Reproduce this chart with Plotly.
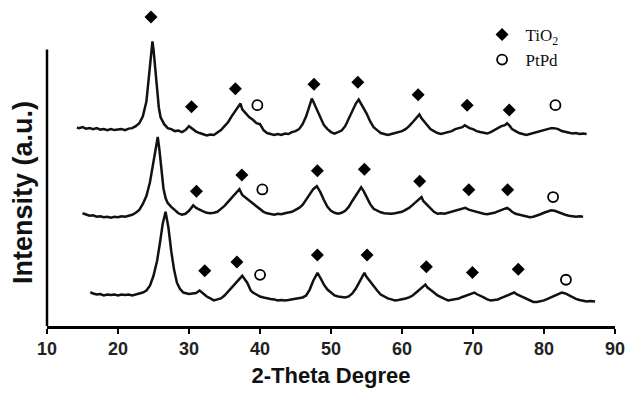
import plotly.graph_objects as go

# ---- data (2-theta in degrees, intensity in a.u. incl. stacking offset) ----
top_x = [14.2, 14.5, 15.0, 15.5, 16.0, 16.5, 17.0, 17.5, 18.0, 18.5, 19.0, 19.5, 20.0, 20.5, 21.0, 21.5,
         22.0, 22.5, 23.0, 23.5, 24.0, 24.5, 24.85, 25.0, 25.25, 25.5, 25.75, 26.0, 26.5, 27.0, 27.5,
         28.0, 28.5, 29.0, 29.5, 30.0, 30.5, 31.0, 31.5, 32.0, 32.5, 33.0, 33.5, 34.0, 34.5, 35.0,
         35.5, 36.0, 36.5, 37.0, 37.25, 37.5, 38.0, 38.5, 39.0, 39.5, 40.0, 40.5, 41.0, 41.5, 42.0,
         42.5, 43.0, 43.5, 44.0, 44.5, 45.0, 45.5, 46.0, 46.5, 47.0, 47.3, 47.5, 48.0, 48.5, 49.0,
         49.5, 50.0, 50.5, 51.0, 51.5, 52.0, 52.5, 53.0, 53.5, 53.9, 54.25, 54.5, 55.0, 55.5, 56.0,
         56.5, 57.0, 57.5, 58.0, 58.5, 59.0, 59.5, 60.0, 60.5, 61.0, 61.5, 62.0, 62.45, 62.75, 63.0,
         63.5, 64.0, 64.5, 65.0, 65.5, 66.0, 66.5, 67.0, 67.5, 68.0, 68.5, 68.85, 69.5, 70.0, 70.5,
         71.0, 71.5, 72.0, 72.5, 73.0, 73.5, 74.0, 74.5, 74.8, 75.2, 75.5, 76.0, 76.5, 77.0, 77.5,
         78.0, 78.5, 79.0, 79.5, 80.0, 80.5, 81.0, 81.4, 82.0, 82.5, 83.0, 83.5, 84.0, 84.5, 85.0,
         85.5, 86.0]
top_y = [201.5, 201, 202, 200.5, 201, 200, 201, 199.5, 200, 199, 200, 199, 199.5, 200, 199, 200.5,
         201, 203, 206, 213, 228, 262, 289, 281, 259, 239, 222, 212, 205, 201, 200,
         198, 198.5, 197, 199, 203, 200, 197.5, 196, 195, 193.5, 194.5, 194, 196.5, 199, 203,
         207, 213, 218, 223, 226, 220, 216, 212, 209.5, 206, 205, 199, 196, 195, 194,
         195, 194, 195.5, 195, 197, 198, 200, 205, 213, 224, 231, 228, 220, 211, 204,
         200, 197, 195.5, 197, 198.5, 203, 211, 219, 226, 230, 226, 223, 216, 208, 202,
         199, 196, 195, 194, 195, 196, 197, 198, 200, 203, 207, 211, 215, 211, 209,
         204, 200, 198, 196, 195, 196, 197, 198, 200, 201, 202, 204, 201, 200, 198,
         197, 196, 195.5, 197, 199, 201, 203, 204, 206, 203, 200, 198, 196, 195, 194,
         195, 196, 197, 198, 199, 200, 201, 201, 200, 198, 197, 196, 195.5, 196, 195,
         195.5, 195]

mid_x = [15.0, 15.5, 16.0, 16.5, 17.0, 17.5, 18.0, 18.5, 19.0, 19.5, 20.0, 20.5, 21.0, 21.5, 22.0,
         22.5, 23.0, 23.5, 24.0, 24.5, 25.0, 25.35, 25.6, 25.85, 26.1, 26.4, 26.7, 27.0, 27.5, 28.0,
         28.5, 29.0, 29.5, 30.0, 30.6, 31.0, 31.5, 32.0, 32.5, 33.0, 33.5, 34.0, 34.5, 35.0, 35.5,
         36.0, 36.5, 37.1, 37.5, 38.0, 38.5, 39.0, 39.5, 40.0, 40.5, 41.0, 41.5, 42.0, 42.5, 43.0,
         43.5, 44.0, 44.5, 45.0, 45.5, 46.0, 46.5, 47.0, 47.5, 48.0, 48.5, 49.0, 49.5, 50.0, 50.5,
         51.0, 51.5, 52.0, 52.5, 53.0, 53.5, 54.0, 54.25, 54.6, 55.0, 55.5, 56.0, 56.5, 57.0, 57.5,
         58.0, 58.5, 59.0, 59.5, 60.0, 60.5, 61.0, 61.5, 62.0, 62.5, 62.75, 63.0, 63.5, 64.0, 64.5,
         65.0, 65.5, 66.0, 66.5, 67.0, 67.5, 68.0, 68.5, 68.9, 69.5, 70.0, 70.5, 71.0, 71.5, 72.0,
         72.5, 73.0, 73.5, 74.0, 74.5, 74.8, 75.2, 75.5, 76.0, 76.5, 77.0, 77.5, 78.0, 78.5, 79.0,
         79.5, 80.0, 80.5, 81.0, 81.5, 82.0, 82.5, 83.0, 83.5, 84.0, 84.5, 85.0, 85.5]
mid_y = [114.5, 113, 112, 112.5, 111, 111.5, 110.5, 111, 110, 111, 110.5, 111.5, 111, 112, 113,
         115, 118, 124, 132, 146, 166, 183, 192, 178, 158, 140, 130, 125, 121, 117.5,
         114.5, 113, 114, 117, 122.5, 120, 118, 116.5, 115, 114.5, 115, 116, 119, 122, 126,
         130, 134, 139, 133, 130, 127.5, 125, 122, 119, 116, 114.5, 114, 113, 114, 113.5,
         114.5, 115, 116, 118, 120, 123, 128, 134, 139, 142, 136, 128, 121, 117, 115,
         114, 115, 117, 121, 127, 133, 139, 141, 137, 131, 124, 119, 117, 115.5, 114.5,
         114, 114, 114.5, 115, 116, 118, 120, 123, 126, 128.5, 131, 127, 123, 119, 116,
         114, 114.5, 114, 115, 116, 117, 118, 119, 120, 118, 117, 115.5, 114.5, 114, 113.5,
         114, 115, 116.5, 118, 119, 120, 118, 116, 114, 113, 112, 111, 110.5, 111, 112,
         113.5, 115, 116.5, 117.5, 117, 115.5, 114, 113, 112, 111.5, 111, 111.5, 111]

bot_x = [16.1, 16.5, 17.0, 17.5, 18.0, 18.5, 19.0, 19.5, 20.0, 20.5, 21.0, 21.5, 22.0, 22.5, 23.0,
         23.5, 24.0, 24.5, 25.0, 25.5, 25.9, 26.3, 26.7, 27.1, 27.5, 27.9, 28.3, 28.7, 29.2, 29.5,
         30.0, 30.5, 31.0, 31.5, 32.0, 32.5, 33.0, 33.5, 34.0, 34.5, 35.0, 35.5, 36.0, 36.5, 37.0,
         37.5, 37.8, 38.2, 38.7, 39.0, 39.5, 40.0, 40.5, 41.0, 41.5, 42.0, 42.5, 43.0, 43.5, 44.0,
         44.5, 45.0, 45.5, 46.0, 46.5, 47.0, 47.5, 48.1, 48.5, 49.0, 49.5, 50.0, 50.5, 51.0, 51.5,
         52.0, 52.5, 53.0, 53.5, 54.0, 54.7, 55.0, 55.5, 56.0, 56.5, 57.0, 57.5, 58.0, 58.5, 59.0,
         59.5, 60.0, 60.5, 61.0, 61.5, 62.0, 62.5, 63.0, 63.3, 63.6, 64.0, 64.5, 65.0, 65.5, 66.0,
         66.5, 67.0, 67.5, 68.0, 68.5, 69.0, 69.5, 70.2, 70.5, 71.0, 71.5, 72.0, 72.5, 73.0, 73.5,
         74.0, 74.5, 75.0, 75.8, 76.2, 76.5, 77.0, 77.5, 78.0, 78.5, 79.0, 79.5, 80.0, 80.5, 81.0,
         81.5, 82.0, 82.5, 83.0, 83.5, 84.0, 84.5, 85.0, 85.5, 86.0, 86.5, 87.2]
bot_y = [34.5, 33, 32, 32.5, 31, 32, 31.5, 32, 31, 32, 31.5, 32, 31, 32, 32.5,
         34, 36, 41, 51, 66, 84, 104, 116, 100, 76, 57, 44, 38, 34, 33.5,
         32.5, 33, 33.5, 36, 33, 30, 28, 26, 27, 28, 31, 35, 39, 42, 46,
         51, 48, 44, 36, 34, 32, 30, 29, 28, 27.5, 27, 26, 26.5, 26, 26.5,
         27, 27.5, 28, 29, 31, 37, 46, 54, 49, 42, 37, 34, 31, 30, 29.5,
         29, 30, 33, 38, 45, 54, 50, 45, 40, 36, 32, 30, 28, 27, 26,
         26.5, 27, 28, 29, 31, 34, 37, 40, 42, 39, 37, 34, 31, 29, 27.5,
         26, 26.5, 27, 28, 29.5, 31, 32.5, 34, 32.5, 31, 29, 27, 26, 26.5, 27,
         28.5, 30, 32, 34, 32, 31, 29, 27, 25.5, 24.5, 24.5, 25, 26, 27.5, 29,
         31, 32.5, 34, 33, 31, 29, 27.5, 26.5, 26, 25, 25.5, 25]

# peak markers
tio2_top_x = [24.65, 30.35, 36.53, 47.61, 53.78, 62.27, 69.17, 75.11]
tio2_top_y = [314, 222.7, 241, 245.5, 247.7, 235, 224.3, 219.3]
tio2_mid_x = [31.05, 37.45, 48.08, 54.70, 62.49, 69.41, 74.88]
tio2_mid_y = [137, 153.3, 157.7, 159.3, 147, 138.3, 138.3]
tio2_bot_x = [32.22, 36.75, 48.08, 55.08, 63.43, 69.92, 76.37]
tio2_bot_y = [56, 65, 72, 72, 60.3, 54.3, 57.7]
ptpd_top_x = [39.63, 81.61]
ptpd_top_y = [224.3, 224.3]
ptpd_mid_x = [40.33, 81.28]
ptpd_mid_y = [138.7, 131]
ptpd_bot_x = [40.01, 83.09]
ptpd_bot_y = [52, 47]

x_ticks = [10, 20, 30, 40, 50, 60, 70, 80, 90]

LINE = "#111111"
fig = go.Figure()
for xs, ys in [(top_x, top_y), (mid_x, mid_y), (bot_x, bot_y)]:
    fig.add_trace(go.Scatter(x=xs, y=ys, mode="lines", line=dict(color=LINE, width=2.5),
                             showlegend=False, hoverinfo="skip"))

fig.add_trace(go.Scatter(
    x=tio2_top_x + tio2_mid_x + tio2_bot_x,
    y=tio2_top_y + tio2_mid_y + tio2_bot_y,
    mode="markers", name="\u2009TiO<sub>2</sub>",
    marker=dict(symbol="diamond", size=10, color="black", line=dict(width=0))))
fig.add_trace(go.Scatter(
    x=ptpd_top_x + ptpd_mid_x + ptpd_bot_x,
    y=ptpd_top_y + ptpd_mid_y + ptpd_bot_y,
    mode="markers", name="\u2009PtPd",
    marker=dict(symbol="circle-open", size=10, color="black", line=dict(width=1.8))))

fig.update_layout(
    width=635, height=395,
    margin=dict(l=47, r=12, t=10, b=64),
    plot_bgcolor="white", paper_bgcolor="white",
    font=dict(family="Liberation Sans, Arial, sans-serif", color="#111111"),
    legend=dict(x=0.766, y=0.978, xanchor="left", yanchor="top",
                font=dict(family="Liberation Serif, Times New Roman, serif", size=17, color="#111111"),
                bgcolor="rgba(0,0,0,0)", tracegroupgap=0),
    xaxis=dict(range=[10, 90], tickvals=x_ticks, ticks="outside", ticklen=5, tickwidth=2,
               tickcolor="black", showline=True, linecolor="black", linewidth=2.5,
               showgrid=False, zeroline=False,
               tickfont=dict(size=18, weight="bold", color="#222222"),
               title=dict(text="2-Theta Degree", font=dict(size=22, weight="bold", color="#111111"),
                          standoff=10)),
    yaxis=dict(range=[0, 321], showline=False, showticklabels=False, ticks="",
               showgrid=False, zeroline=False),
    shapes=[dict(type="line", xref="paper", x0=0, x1=0, yref="y", y0=0, y1=281,
                 line=dict(color="black", width=2.5))],
    annotations=[dict(text="Intensity (a.u.)", xref="paper", yref="paper",
                      x=-0.0434, y=0.422, xanchor="center", yanchor="middle", textangle=-90,
                      showarrow=False, font=dict(size=27, weight="bold", color="#111111"))],
)

fig.write_html("out.html", config={"displayModeBar": False},
               post_script="document.body.style.margin='0';")
